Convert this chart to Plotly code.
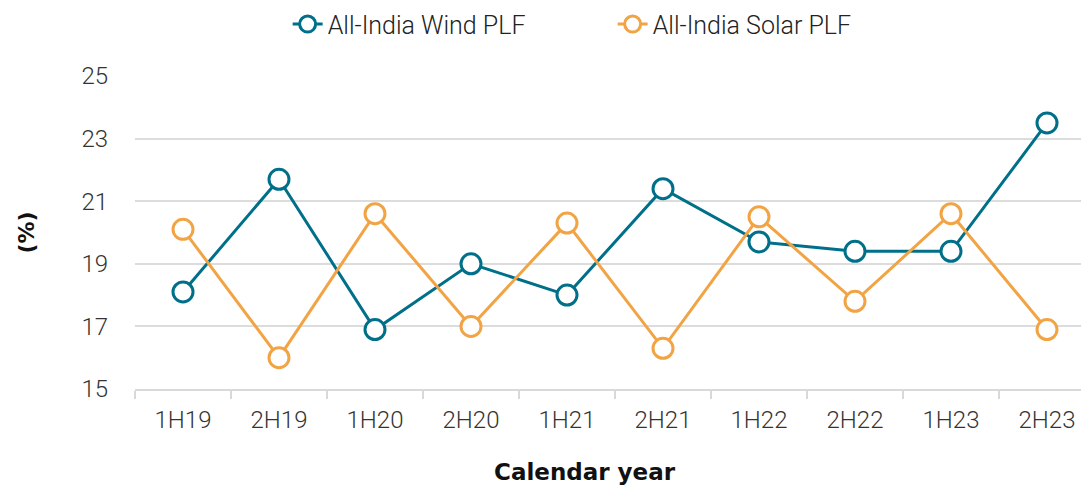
import plotly.graph_objects as go

categories = ["1H19", "2H19", "1H20", "2H20", "1H21", "2H21", "1H22", "2H22", "1H23", "2H23"]
wind_plf = [18.1, 21.7, 16.9, 19.0, 18.0, 21.4, 19.7, 19.4, 19.4, 23.5]
solar_plf = [20.1, 16.0, 20.6, 17.0, 20.3, 16.3, 20.5, 17.8, 20.6, 16.9]
y_ticks = [15, 17, 19, 21, 23, 25]

WIND = "#006f8a"
SOLAR = "#f2a444"
FONT = "Roboto, sans-serif"
BOLD = "DejaVu Sans, sans-serif"

fig = go.Figure()
for name, vals, col in [("All-India Wind PLF", wind_plf, WIND),
                        ("All-India Solar PLF", solar_plf, SOLAR)]:
    fig.add_trace(go.Scatter(
        x=categories, y=vals, name=name, mode="lines+markers",
        line=dict(color=col, width=3),
        marker=dict(symbol="circle", size=20, color="white",
                    line=dict(color=col, width=3)),
    ))

# page body has an 8px margin, so the figure is shifted by 8px
fig.update_layout(
    width=1081, height=479,
    margin=dict(l=127, r=0, t=68, b=98),
    paper_bgcolor="white", plot_bgcolor="white",
    font=dict(family=FONT, color="#333333", size=24),
    legend=dict(orientation="h", x=0.16, xanchor="left", y=0.966, yref="container",
                yanchor="middle", font=dict(size=25, color="#222222", family=FONT, weight=300),
                entrywidth=280, entrywidthmode="pixels"),
    showlegend=True,
    annotations=[dict(text="<b>Calendar year</b>", xref="paper", yref="paper",
                      x=0.472, y=-83 / 313, xanchor="center", yanchor="middle",
                      showarrow=False, font=dict(size=23, color="#111111", family=BOLD))],
)

fig.update_xaxes(
    type="category", range=[-0.5, 9.4375],
    showline=True, linecolor="#d9d9d9", linewidth=1.5,
    ticks="outside", tickson="boundaries", ticklen=8, tickcolor="#d9d9d9", tickwidth=1.5,
    ticklabelstandoff=8,
    showgrid=False, tickfont=dict(size=24, color="#333333", weight=300),
)
fig.update_yaxes(
    range=[15, 25], tickvals=y_ticks, showgrid=True, gridcolor="#dcdcdc", gridwidth=1.5,
    zeroline=False, showline=False, ticks="", ticklabelstandoff=26,
    tickfont=dict(size=24, color="#333333", weight=300),
    title=dict(text="<b>(%)</b>", font=dict(size=22, color="#111111", family=BOLD), standoff=40),
)

fig.write_html("out.html")
